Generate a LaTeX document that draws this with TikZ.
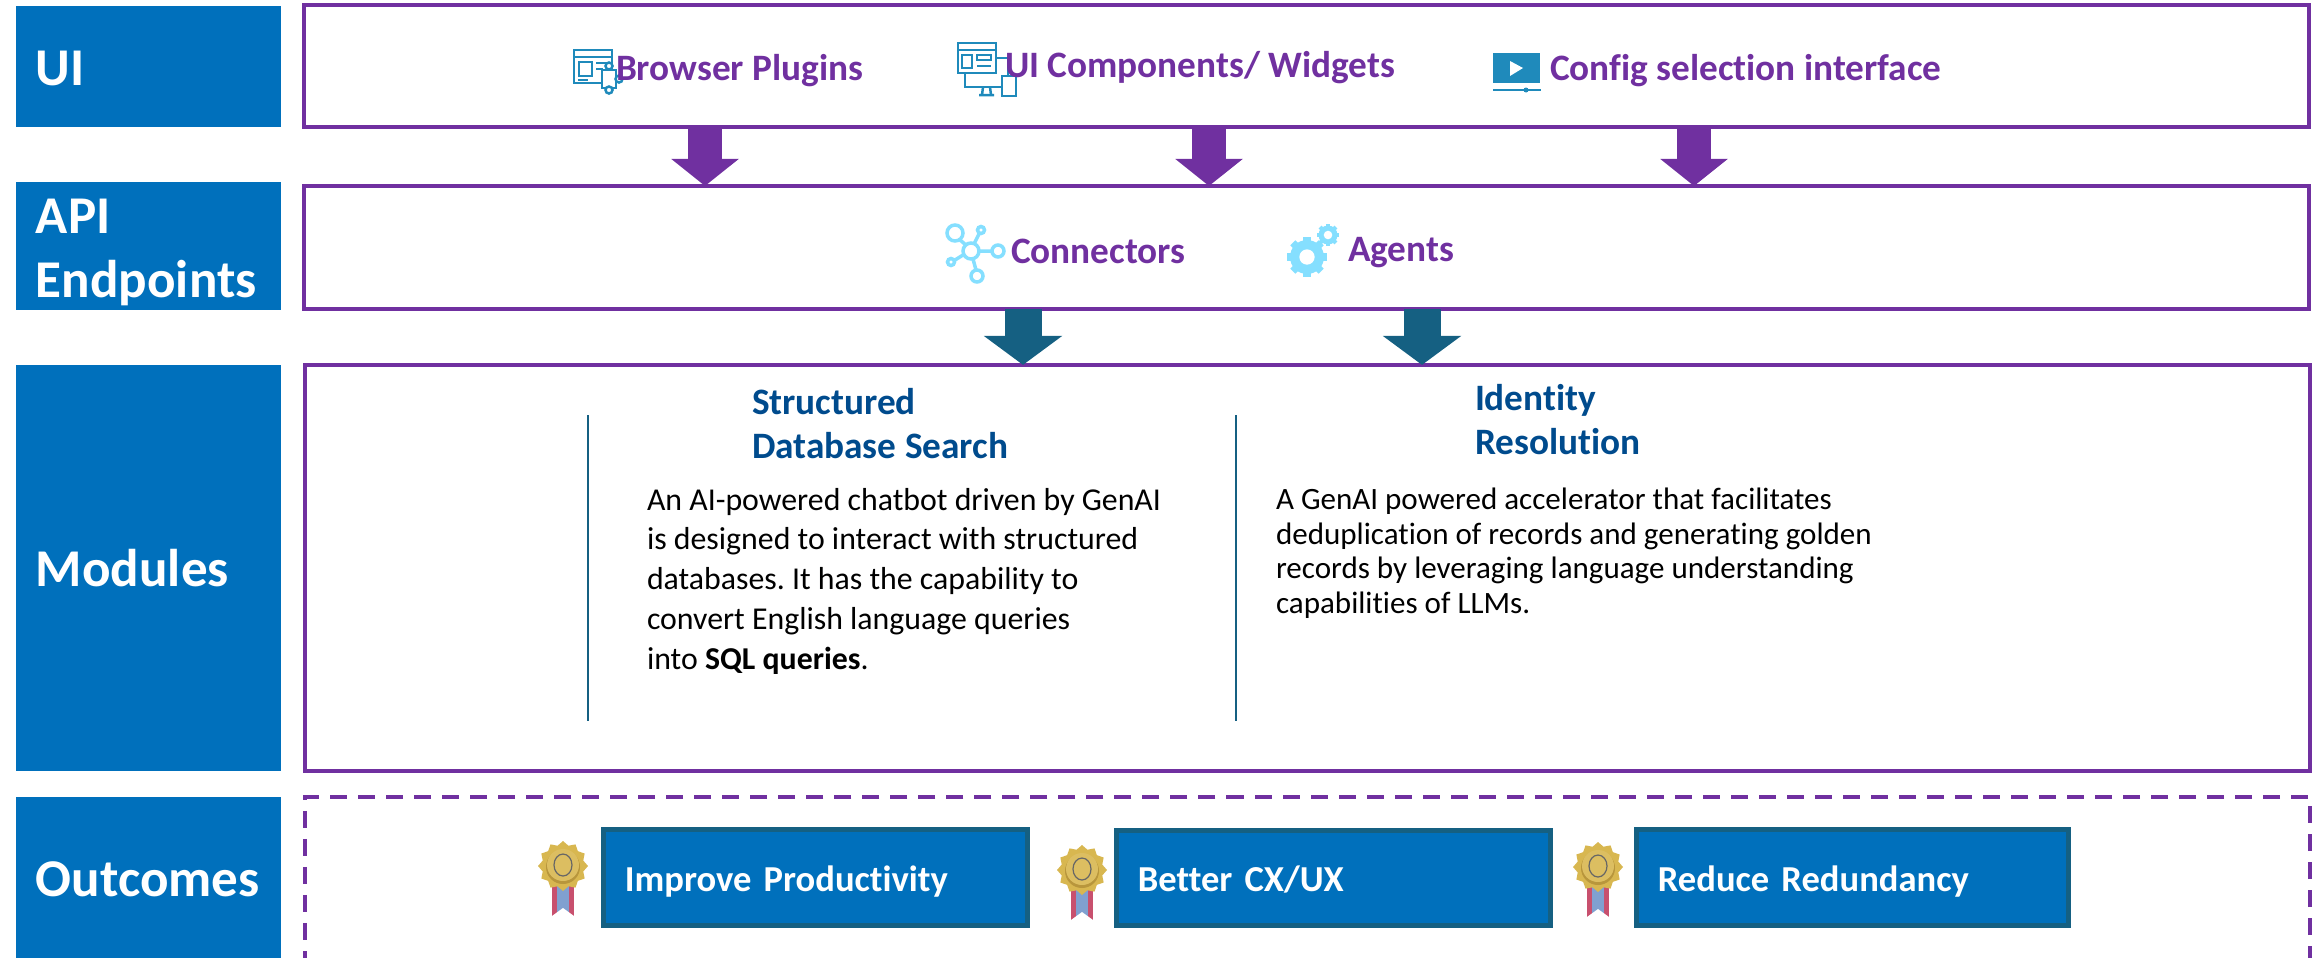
\documentclass[tikz,border=0pt]{standalone}
\usepackage{fontspec}
\setmainfont[Ligatures=NoCommon]{Carlito}
\usetikzlibrary{arrows.meta}
\definecolor{sidebl}{HTML}{0070BC}
\definecolor{lilac}{HTML}{7030A0}
\definecolor{petrol}{HTML}{156082}
\definecolor{navy}{HTML}{004B8D}
\definecolor{iconbl}{HTML}{1F8ABB}
\definecolor{skybl}{HTML}{85DFFF}
\definecolor{medalgold}{HTML}{D8B750}
\definecolor{medalrim}{HTML}{B8963C}
\definecolor{ribbonred}{HTML}{C8506E}
\definecolor{ribbonbl}{HTML}{80A0D0}
\frenchspacing
% gear: x, y, radius
\newcommand{\geartoy}[3]{
\foreach \a in {0,45,...,315} \draw[skybl,line width=#3*.42*.01cm] (#1,#2) ++(\a:#3*.7) -- ++(\a:#3*.48);
\fill[skybl] (#1,#2) circle (#3);
\fill[white] (#1,#2) circle (#3*.45);
}
\begin{document}
\begin{tikzpicture}[x=.01cm,y=-.01cm,inner sep=0pt,outer sep=0pt,
sidelabel/.style={fill=sidebl,text=white,font=\fontsize{15.1}{18}\selectfont\bfseries,align=left,inner xsep=.2cm,text width=2.25cm,minimum width=2.65cm},
lowtext/.style={text height=13.7pt,text depth=3pt},
layerbox/.style={draw=lilac,line width=.04cm,minimum width=20.04cm},
tool/.style={anchor=west,text=lilac,font=\fontsize{10.6}{12}\selectfont\bfseries},
headline/.style={anchor=north west,align=left,text=navy,font=\fontsize{10.6}{12.6}\selectfont\bfseries},
gain/.style={draw=petrol,line width=.05cm,fill=sidebl,text=white,font=\fontsize{10.4}{12}\selectfont\bfseries,align=left,minimum height=.95cm,inner xsep=.21cm,text height=10.4pt,text depth=2.5pt},
rule/.style={draw=petrol,line width=.025cm},
bigdown/.style={line width=.34cm,-{Triangle[length=.27cm,width=.66cm]},draw=lilac},
tealdown/.style={line width=.37cm,-{Triangle[length=.29cm,width=.77cm]},draw=petrol},
icon/.style={draw=iconbl,line width=.025cm},
hub/.style={draw=skybl,line width=.035cm},
medal/.pic={
\fill[ribbonred] (-11,18) rectangle (11,50);
\fill[ribbonbl] (-6,18) rectangle (6,50);
\fill[white] (-11,50) -- (0,42) -- (11,50) -- cycle;
\fill[medalgold] plot[samples at={0,15,...,345},variable=\t] (\t:{25-4*mod(\t,30)/15}) -- cycle;
\fill[medalrim] (0,1) circle (17);
\fill[medalgold!90!white] (0,-1) circle (16);
\draw[black!60,line width=.012cm] (0,-1) ellipse (9 and 11);
}]
\useasboundingbox (0,0) rectangle (2318,957);
% left column
\draw (148.5,66.5) node[sidelabel,lowtext,minimum height=1.21cm] (UIlab) {UI};
\draw (148.5,246) node[sidelabel,minimum height=1.27cm] (APIlab) {\rule{0pt}{13.5pt}API\\Endpoints};
\draw (148.5,568) node[sidelabel,lowtext,minimum height=4.06cm] (MODlab) {Modules};
\draw (148.5,877.5) node[sidelabel,lowtext,minimum height=1.6cm] (OUTlab) {Outcomes};
% layers
\draw (1306.5,66) node[layerbox,minimum height=1.22cm] (UIbox) {};
\draw (1306.5,247.5) node[layerbox,minimum height=1.23cm] (APIbox) {};
\draw (1307.5,568) node[layerbox,minimum height=4.06cm] (MODbox) {};
\draw (1307.5,900) node[layerbox,minimum height=2.06cm,dash pattern=on .17cm off .11cm] (OUTbox) {};
% block arrows
\coordinate (ardA) at (705,0);
\coordinate (ardB) at (1209,0);
\coordinate (ardC) at (1694,0);
\coordinate (ardD) at (1023,0);
\coordinate (ardE) at (1422,0);
\foreach \c in {ardA,ardB,ardC} \draw[bigdown] (\c |- UIbox.south) -- (\c |- APIbox.north);
\foreach \c in {ardD,ardE} \draw[tealdown] (\c |- APIbox.south) -- (\c |- MODbox.north);
% browser icon
\draw[icon] (574,50) rectangle (612,83);
\draw[icon] (574,57) -- (612,57);
\draw[icon] (579,62) rectangle (592,76);
\draw[icon] (596,63) -- (607,63) (596,69) -- (603,69) (578,80) -- (588,80);
\draw[icon,fill=white] (602,70) rectangle (616,88);
\draw[icon,fill=white] (609,66) circle (3.5);
\draw[icon,fill=white] (619,79) circle (3.5);
\draw[icon,fill=white] (609,90) circle (3.5);
\draw (616,71) node[tool] (plugin) {Browser Plugins};
% widgets icon
\draw[icon] (965,58) rectangle (1008,87);
\draw[icon] (979,95) -- (994,95) (983,87) -- (982,95) (990,87) -- (991,95);
\draw[icon,fill=white] (958,43) rectangle (996,73);
\draw[icon] (958,50) -- (996,50);
\draw[icon] (962,55) rectangle (972,68);
\draw[icon] (977,55) rectangle (991,60) (977,66) -- (991,66);
\draw[icon,fill=white] (1002,76) rectangle (1016,96);
\draw (1005,68) node[tool] (widget) {UI Components/ Widgets};
% config icon
\fill[iconbl] (1493,53) rectangle (1540,83);
\fill[white] (1510,61) -- (1523,68) -- (1510,76) -- cycle;
\draw[icon] (1493,90) -- (1541,90);
\fill[iconbl] (1526,90) circle (2.5);
\draw (1550,71) node[tool] (config) {Config selection interface};
% connectors icon
\draw[hub] (971,251) circle (8);
\draw[hub] (955,233) circle (8) (981,230) circle (3.5) (998,251) circle (6) (951,262) circle (3.5) (977,276) circle (6);
\draw[hub] (960,240) -- (966,245) (979,234) -- (974,244) (979,251) -- (992,251) (955,260) -- (963,255) (973,259) -- (976,270);
\draw (1011,251) node[tool] (connect) {Connectors};
% agents icon
\geartoy{1307}{257}{17}
\geartoy{1328}{235}{9.5}
\draw (1348,253) node[tool] (agent) {Agents};
% modules
\draw[rule] (588,415) -- (588,721);
\draw[rule] (1236,415) -- (1236,721);
\draw (752,388) node[headline] (sqlhead) {Structured\\Database Search};
\draw (1475,384) node[headline] (idhead) {Identity\\Resolution};
\draw (647,488) node[anchor=north west,align=left,font=\fontsize{9.05}{11.3}\selectfont] (sqltext) {An AI-powered chatbot driven by GenAI\\is designed to interact with structured\\databases. It has the capability to\\convert English language queries\\into \textbf{SQL queries}.};
\draw (1276,488) node[anchor=north west,align=left,font=\fontsize{8.83}{9.85}\selectfont] (idtext) {A GenAI powered accelerator that facilitates\\deduplication of records and generating golden\\records by leveraging language understanding\\capabilities of LLMs.};
% outcomes
\draw (815.5,877.5) node[gain,minimum width=4.23cm,text width=3.81cm] (gainA) {Improve Productivity};
\draw (1333.5,878) node[gain,minimum width=4.33cm,text width=3.91cm] (gainB) {Better CX/UX};
\draw (1852.5,877.5) node[gain,minimum width=4.31cm,text width=3.89cm] (gainC) {Reduce Redundancy};
\draw (563,866) pic {medal};
\draw (1082,870) pic {medal};
\draw (1598,867) pic {medal};
\end{tikzpicture}
\end{document}
